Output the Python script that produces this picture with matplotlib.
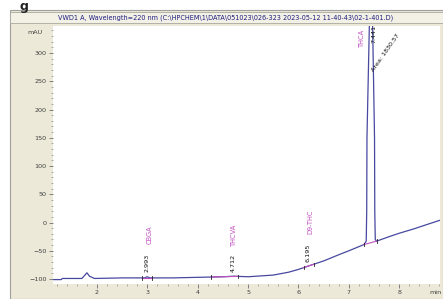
import matplotlib.pyplot as plt
import matplotlib.patches as patches
import numpy as np

# trace (min, mAU)
trace_t = [1.13, 1.29, 1.31, 1.70, 1.76, 1.80, 1.85, 1.95, 2.5, 2.95, 2.993, 3.05, 3.5,
           4.0, 4.5, 4.712, 5.0, 5.5, 5.8, 6.0, 6.195, 6.5, 6.8, 7.0, 7.30,
           7.345, 7.355, 7.36, 7.41, 7.441, 7.47, 7.51, 7.515, 7.525, 7.55,
           7.8, 8.0, 8.3, 8.5, 8.81]
trace_v = [-101, -101, -99, -99, -93, -89, -95, -99, -98, -98, -96, -98, -98,
           -97, -96, -95, -96, -93, -88, -83, -77, -68, -57, -50, -39,
           -33, 20, 150, 360, 440, 360, 150, 20, -30, -33,
           -25, -19, -11, -5, 4]

# peaks: retention time, name, where the labels sit (mAU)
peak_rt = [2.993, 4.712, 6.195, 7.441]
peak_names = ["CBGA", "THCVA", "D9-THC", "THCA"]
rt_label_y = [-72, -72, -54, 334]
rt_dx = [0.0, 0.0, 0.0, 0.06]
name_label_y = [-22, -22, 2, 326]
name_dx = [0.05, 0.0, 0.05, -0.18]

# integration baselines (start, end) in min
int_start = [2.90, 4.27, 6.10, 7.30]
int_end = [3.10, 4.80, 6.30, 7.55]

area_text = "Area: 1830.57"
title = "VWD1 A, Wavelength=220 nm (C:\\HPCHEM\\1\\DATA\\051023\\026-323 2023-05-12 11-40-43\\02-1-401.D)"

beige = "#ece9d8"
trace_col = "#4848a0"
pink = "#c050c0"

fig = plt.figure(figsize=(4.43, 2.99), dpi=100)
fig.patch.set_facecolor("white")

# windows style panel behind the plot (zorder low so the axes draw on top)
fig.add_artist(patches.Rectangle((10 / 443, 0), 433 / 443, 1 - 10 / 299,
                                 transform=fig.transFigure, facecolor=beige,
                                 edgecolor="#a0a0a0", linewidth=0.8, zorder=-10))
# title bar
fig.add_artist(patches.Rectangle((10 / 443, 1 - 23 / 299), 433 / 443, 11 / 299,
                                 transform=fig.transFigure, facecolor="#f3f1e6",
                                 edgecolor="#a8a8a0", linewidth=0.6, zorder=-9))
fig.text(0.51, 1 - 17.5 / 299, title, fontsize=4.7, color="#1c1c80",
         ha="center", va="center")
# bit of a heading from above the chart
fig.text(20 / 443, 1.0, "g", fontsize=9, fontweight="bold", ha="left",
         va="top", color="#222222")

ax = fig.add_axes([53 / 443, 15 / 299, 387 / 443, 258 / 299])
ax.set_facecolor("white")
ax.plot(trace_t, trace_v, color=trace_col, linewidth=0.9)

# integration baselines + tick marks
for s, e in zip(int_start, int_end):
    vs = np.interp(s, trace_t, trace_v)
    ve = np.interp(e, trace_t, trace_v)
    ax.plot([s, e], [vs, ve], color=pink, linewidth=0.8)
    ax.plot([s, s], [vs - 3, vs + 3], color="#222222", linewidth=0.6)
    ax.plot([e, e], [ve - 3, ve + 3], color="#222222", linewidth=0.6)

for rt, name, ry, rdx, ny, dx in zip(peak_rt, peak_names, rt_label_y, rt_dx,
                                     name_label_y, name_dx):
    ax.text(rt + rdx, ry, "%.3f" % rt, rotation=90, fontsize=4.6, ha="center",
            va="center", color="#111111")
    ax.text(rt + dx, ny, name, rotation=90, fontsize=4.8, ha="center",
            va="center", color=pink)

ax.text(7.52, 266, area_text, rotation=55, rotation_mode="anchor", fontsize=4.6,
        ha="left", va="bottom", color="#111111")

ax.set_xlim(1.126, 8.81)
ax.set_ylim(-108.8, 347.8)
ax.set_xticks([2, 3, 4, 5, 6, 7, 8])
ax.set_xticks(np.arange(1.2, 8.81, 0.2), minor=True)
ax.set_yticks([-100, -50, 0, 50, 100, 150, 200, 250, 300])
ax.set_yticks(np.arange(-100, 341, 10), minor=True)
ax.tick_params(axis="both", which="major", labelsize=4.6, labelcolor="#404040",
               color="#707070", length=3, width=0.6, pad=1.5)
ax.tick_params(axis="both", which="minor", color="#909090", length=1.5, width=0.5)
ax.set_xticklabels(["2", "3", "4", "5", "6", "7", "8"])
for s in ax.spines.values():
    s.set_visible(False)

fig.text(435 / 443, 1 - 293 / 299, "min", fontsize=4.6, color="#404040",
         ha="center", va="center")
fig.text(35 / 443, 1 - 32 / 299, "mAU", fontsize=4.6, color="#404040",
         ha="center", va="center")

fig.savefig("out.png", dpi=100, facecolor=fig.get_facecolor())
